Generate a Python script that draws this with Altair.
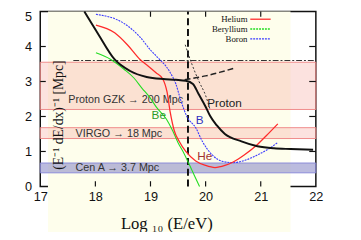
import altair as alt
import pandas as pd

# ---- data ----
proton_x = [17.80, 18.05, 18.35, 18.63, 18.93, 19.23, 19.46, 19.64, 19.77, 19.87, 20.0, 20.08, 20.2, 20.35, 20.65, 20.94, 21.24, 21.54, 21.95]
proton_y = [5.0, 4.36, 3.63, 3.3, 3.13, 3.07, 3.05, 3.02, 2.93, 2.65, 2.28, 2.02, 1.75, 1.5, 1.29, 1.15, 1.09, 1.07, 1.05]

helium_x = [18.01, 18.35, 18.58, 18.81, 18.95, 19.1, 19.22, 19.3, 19.36, 19.43, 19.52, 19.64, 19.82, 20.0, 20.17, 20.35, 20.5, 20.7, 20.92, 21.1, 21.31]
helium_y = [4.61, 4.39, 4.05, 3.63, 3.45, 3.25, 3.08, 2.7, 2.1, 1.6, 1.29, 1.0, 0.73, 0.6, 0.54, 0.6, 0.7, 0.9, 1.17, 1.45, 1.79]

beryllium_x = [18.01, 18.28, 18.52, 18.70, 18.84, 18.99, 19.11, 19.29, 19.4, 19.5, 19.59, 19.7, 19.8, 19.89]
beryllium_y = [3.82, 3.63, 3.35, 3.1, 2.82, 2.54, 2.26, 1.92, 1.6, 1.25, 1.0, 0.64, 0.3, 0.0]

boron_x = [18.01, 18.52, 18.81, 19.0, 19.11, 19.34, 19.46, 19.55, 19.66, 19.82, 19.94, 20.12, 20.3, 20.5, 20.7, 20.94, 21.15, 21.31]
boron_y = [4.92, 4.66, 4.27, 3.9, 3.72, 3.3, 2.93, 2.46, 2.0, 1.68, 1.29, 0.9, 0.72, 0.68, 0.74, 0.9, 1.08, 1.26]

rise_x = [19.62, 19.8, 20.0, 20.25, 20.5]
rise_y = [3.05, 3.1, 3.16, 3.26, 3.37]

fall_x = [19.63, 19.75, 19.88, 20.0, 20.08]
fall_y = [4.05, 3.5, 3.0, 2.6, 2.2]

band_lo = [2.2, 1.37, 0.39]
band_hi = [3.55, 1.68, 0.67]
band_names = ["Proton GZK \u2192 200 Mpc", "VIRGO \u2192 18 Mpc", "Cen A \u2192 3.7 Mpc"]
band_label_y = [2.46, 1.51, 0.53]

gzk_limit_x = 19.68
dashdot_y = 3.6

legend_names = ["Helium", "Beryllium", "Boron"]
legend_colors = ["#ff2a2a", "#22dd22", "#3a3aff"]
legend_y = [4.78, 4.5, 4.22]

curve_labels = ["Be", "B", "He", "Proton"]
curve_label_x = [19.02, 19.82, 19.85, 20.03]
curve_label_y = [2.04, 1.9, 0.87, 2.37]
curve_label_colors = ["#2a9a2a", "#3030c0", "#a03030", "#222222"]

x_ticks = [17, 18, 19, 20, 21, 22]
y_ticks = [0, 1, 2, 3, 4, 5]

# ---- scales & axes (identical in every layer so they merge) ----
xs = alt.Scale(domain=[17, 22], nice=False, zero=False)
ys = alt.Scale(domain=[0, 5], nice=False, zero=False)

x_axis = alt.Axis(values=x_ticks, format="d", ticks=False, domain=False, grid=False,
                  labelFont="Liberation Sans", labelFontSize=13, labelColor="#111",
                  labelPadding=4, labelOverlap=False, title="Log \u2081\u2080 (E/eV)",
                  titleFont="Liberation Serif", titleFontSize=17, titleFontWeight="normal",
                  titleColor="#111", titleX=129, titleY=43, titleAlign="center",
                  titleBaseline="alphabetic", zindex=1, labelFlush=False)
y_axis = alt.Axis(values=y_ticks, format="d", ticks=False, domain=False, grid=False,
                  labelFont="Liberation Sans", labelFontSize=13, labelColor="#111",
                  labelPadding=9, labelOverlap=False, title=None, zindex=1,
                  labelFlush=False,
                  labelBaseline={"condition": {"test": "datum.value == 5", "value": "top"},
                                 "value": "middle"},
                  labelOffset={"condition": {"test": "datum.value == 5", "value": -1},
                               "value": 0})


def X(f):
    return alt.X(f, type="quantitative", scale=xs, axis=x_axis)


def Y(f):
    return alt.Y(f, type="quantitative", scale=ys, axis=y_axis)


def line(xv, yv, color, width=1.2, dash=None):
    df = pd.DataFrame({"x": xv, "y": yv})
    kw = dict(color=color, strokeWidth=width, interpolate="monotone")
    if dash:
        kw["strokeDash"] = dash
    return alt.Chart(df).mark_line(**kw).encode(x=X("x"), y=Y("y"))


# pale background patch
bg = alt.Chart(pd.DataFrame({"x": [17.14], "x2": [21.54], "y": [-1.45], "y2": [5]})).mark_rect(
    color="#fefeec").encode(x=X("x"), x2="x2:Q", y=Y("y"), y2="y2:Q")

bands_df = pd.DataFrame({"lo": band_lo, "hi": band_hi, "name": band_names,
                         "ly": band_label_y,
                         "fill": ["#f7a49c", "#f7a49c", "#8484c4"],
                         "op": [0.32, 0.32, 0.55],
                         "st": ["#f08a8a", "#f08a8a", "#8a8ad8"]})
bands = alt.Chart(bands_df).mark_rect(strokeWidth=1).encode(
    x=alt.value(0), x2=alt.value(282),
    y=Y("lo"), y2="hi:Q",
    fill=alt.Fill("fill:N", scale=None),
    fillOpacity=alt.FillOpacity("op:Q", scale=None),
    stroke=alt.Stroke("st:N", scale=None))

band_text = alt.Chart(bands_df.assign(lx=[17.51, 17.64, 17.64])).mark_text(
    align="left", baseline="middle", font="Liberation Sans", fontSize=11, color="#333").encode(
    x=X("lx"), y=Y("ly"), text="name:N")

dashdot = alt.Chart(pd.DataFrame({"x": [17.6], "x2": [22.0], "y": [dashdot_y]})).mark_rule(
    color="#333", strokeWidth=1.2, strokeDash=[6, 2, 2, 2]).encode(
    x=X("x"), x2="x2:Q", y=Y("y"))

vline = alt.Chart(pd.DataFrame({"x": [gzk_limit_x], "y": [0], "y2": [5]})).mark_rule(
    color="#111", strokeWidth=2, strokeDash=[7, 4]).encode(
    x=X("x"), y=Y("y"), y2="y2:Q")

curves = [
    line(beryllium_x, beryllium_y, "#22dd22", 1.1),
    line(boron_x, boron_y, "#3a3aff", 1.1, [2, 1]),
    line(helium_x, helium_y, "#ff2a2a", 1.3),
    line(proton_x, proton_y, "#111111", 2.0),
    line(rise_x, rise_y, "#222222", 1.5, [6, 3]),
    line(fall_x, fall_y, "#333333", 1.0, [2, 2]),
]

cl_df = pd.DataFrame({"t": curve_labels, "x": curve_label_x, "y": curve_label_y, "c": curve_label_colors})
curve_text = alt.Chart(cl_df).mark_text(align="left", baseline="middle",
                                        font="Liberation Sans", fontSize=12).encode(
    x=X("x"), y=Y("y"), text="t:N", color=alt.Color("c:N", scale=None))

ytitle = alt.Chart(pd.DataFrame({"x": [17.34], "y": [2.04],
                                 "t": ["(E\u207b\u00b9 dE/dx)\u207b\u00b9 [Mpc]"]})).mark_text(
    angle=270, align="center", baseline="middle", font="Liberation Serif", fontSize=14,
    color="#111").encode(x=X("x"), y=Y("y"), text="t:N")

leg_df = pd.DataFrame({"name": legend_names, "c": legend_colors, "y": legend_y,
                       "tx": [20.76] * 3, "x1": [20.81] * 3, "x2": [21.18] * 3})
leg_text = alt.Chart(leg_df).mark_text(align="right", baseline="middle",
                                       font="Liberation Serif", fontSize=9, color="#111").encode(
    x=X("tx"), y=Y("y"), text="name:N")
leg_line_solid = alt.Chart(leg_df.iloc[[0]]).mark_rule(strokeWidth=1.3).encode(
    x=X("x1"), x2="x2:Q", y=Y("y"), color=alt.Color("c:N", scale=None))
leg_line_dot = alt.Chart(leg_df.iloc[[1, 2]]).mark_rule(strokeWidth=1.3, strokeDash=[2, 1]).encode(
    x=X("x1"), x2="x2:Q", y=Y("y"), color=alt.Color("c:N", scale=None))

# inside ticks
tb = pd.DataFrame({"x": [18, 19, 20, 21], "y": [0] * 4, "y2": [0.15] * 4})
tt = pd.DataFrame({"x": [19, 20, 21], "y": [5] * 3, "y2": [4.85] * 3})
tl = pd.DataFrame({"y": [1, 2, 3, 4], "x": [17] * 4, "x2": [17.1] * 4})
tr = pd.DataFrame({"y": [1, 2, 3, 4], "x": [22] * 4, "x2": [21.88] * 4})
tick_b = alt.Chart(tb).mark_rule(color="#111", strokeWidth=1.2).encode(x=X("x"), y=Y("y"), y2="y2:Q")
tick_t = alt.Chart(tt).mark_rule(color="#111", strokeWidth=1.2).encode(x=X("x"), y=Y("y"), y2="y2:Q")
tick_l = alt.Chart(tl).mark_rule(color="#111", strokeWidth=1.2).encode(y=Y("y"), x=X("x"), x2="x2:Q")
tick_r = alt.Chart(tr).mark_rule(color="#111", strokeWidth=1.2).encode(y=Y("y"), x=X("x"), x2="x2:Q")

chart = alt.layer(
    bg, bands, band_text, dashdot, vline, *curves, curve_text, ytitle,
    leg_text, leg_line_solid, leg_line_dot, tick_b, tick_t, tick_l, tick_r
).properties(
    width=282, height=179,
    autosize=alt.AutoSizeParams(type="none"),
    padding={"left": 33, "top": 1, "right": 38, "bottom": 44},
    background="white",
).configure_view(stroke="#111", strokeWidth=1.5)

chart.save("out.html", embed_options={"renderer": "svg", "actions": False})
